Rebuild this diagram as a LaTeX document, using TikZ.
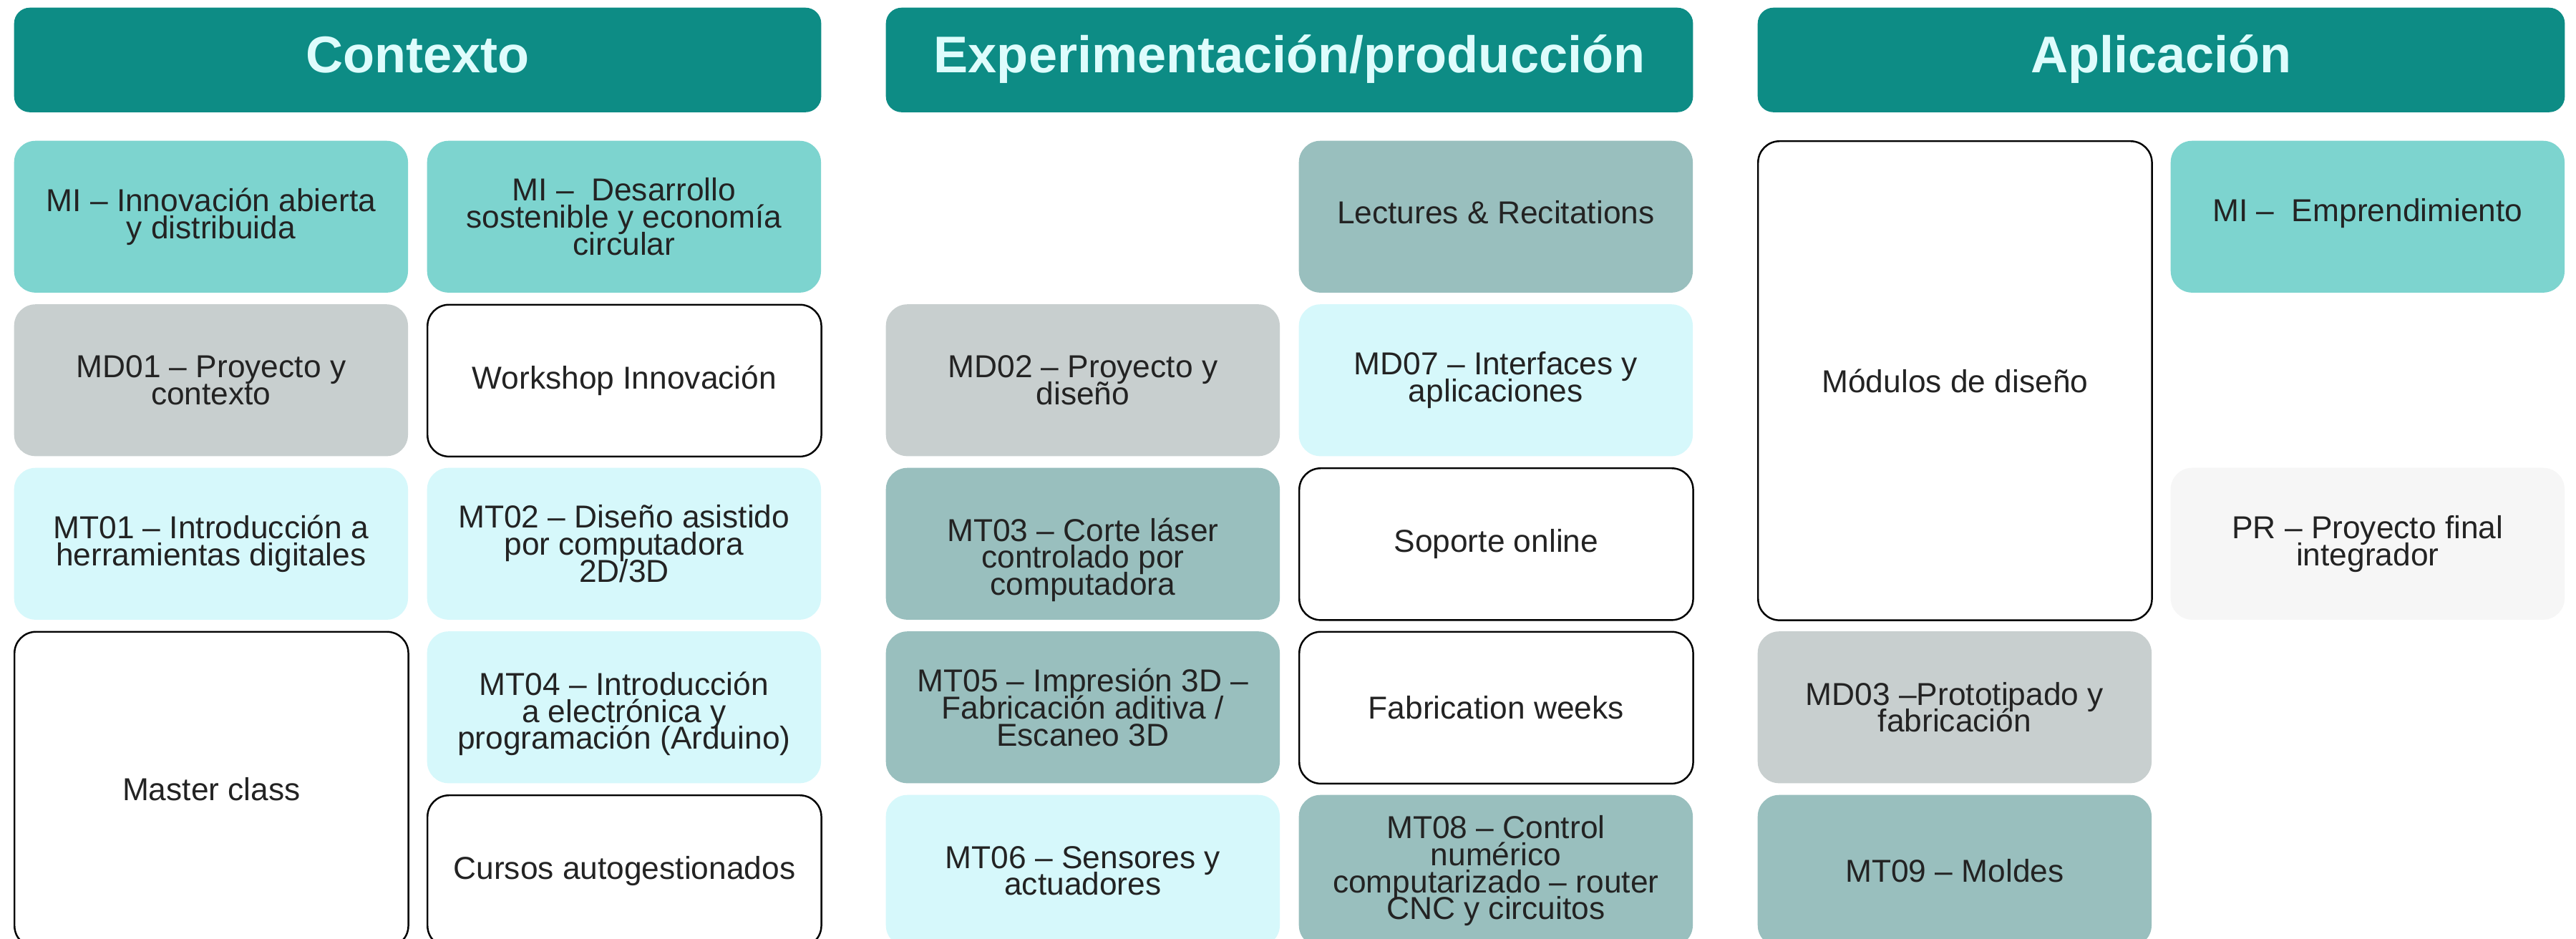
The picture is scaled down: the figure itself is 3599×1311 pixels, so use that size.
\documentclass[tikz,border=0pt]{standalone}
\usepackage{fontspec}
\setmainfont{Liberation Sans}
\definecolor{cHead}{HTML}{0D8C85}
\definecolor{cHeadTxt}{HTML}{DEFCFC}
\definecolor{cTurq}{HTML}{7DD4CF}
\definecolor{cGray}{HTML}{C8CFCF}
\definecolor{cCyan}{HTML}{D6F8FB}
\definecolor{cSage}{HTML}{99BFBE}
\definecolor{cPale}{HTML}{F6F6F6}
\definecolor{txt}{HTML}{232323}
\newcommand{\dnrule}[1]{\rule{0pt}{#1}}
\newcommand{\uprule}[1]{\rule[-#1]{0pt}{0pt}}
\newcommand{\tightlines}{\lineskiplimit=-20pt\relax\lineskip=0pt\relax}
\begin{document}
\begin{tikzpicture}[x=0.01cm,y=-0.01cm,
  box/.style={rectangle, rounded corners=0.3cm, minimum width=5.5cm, minimum height=2.12cm,
    inner sep=0pt, anchor=north west, align=center, text=txt,
    font=\fontsize{12.6}{10.7}\selectfont\tightlines},
  turq/.style={box, fill=cTurq},
  grayb/.style={box, fill=cGray},
  cyanb/.style={box, fill=cCyan},
  sage/.style={box, fill=cSage},
  whiteb/.style={box, fill=white, draw=black, line width=0.7pt},
  pale/.style={box, fill=cPale},
  tall2/.style={minimum height=4.405cm},
  tall3/.style={minimum height=6.69cm},
  head/.style={rectangle, rounded corners=0.22cm, minimum width=11.27cm, minimum height=1.46cm,
    inner sep=0pt, anchor=north west, fill=cHead, text=cHeadTxt,
    text height=0.55cm, text depth=0.2cm,
    font=\bfseries\fontsize{20.5}{20.5}\selectfont}]
\clip (0,0) rectangle (3599,1311);
\fill[white] (0,0) rectangle (3599,1311);
% headers
\node[head] (h1) at (19,10) {Contexto};
\node[head] (h2) at (1237,10) {Experimentación/producción};
\node[head] (h3) at (2455,10) {Aplicación};
% Contexto
\node[turq] (mi1) at (19,196) {MI – Innovación abierta\\y distribuida};
\node[turq] (mi2) at (596,196) {MI –\ \ Desarrollo\\sostenible y economía\\circular};
\node[grayb] (md01) at (19,424.5) {MD01 – Proyecto y\\contexto};
\node[whiteb] (ws) at (596,424.5) {Workshop Innovación};
\node[cyanb] (mt01) at (19,653) {MT01 – Introducción a\\herramientas digitales};
\node[cyanb] (mt02) at (596,653) {MT02 – Diseño asistido\\por computadora\\2D/3D};
\node[whiteb,tall2] (master) at (19,881.5) {Master class};
\node[cyanb] (mt04) at (596,881.5) {\dnrule{14.5pt}MT04 – Introducción\\a electrónica y\\programación (Arduino)};
\node[whiteb] (cursos) at (596,1110) {Cursos autogestionados};
% Experimentacion
\node[sage] (lect) at (1814,196) {Lectures \& Recitations\uprule{3.4pt}};
\node[grayb] (md02) at (1237,424.5) {MD02 – Proyecto y\\diseño};
\node[cyanb] (md07) at (1814,424.5) {MD07 – Interfaces y\\aplicaciones};
\node[sage] (mt03) at (1237,653) {\dnrule{22pt}MT03 – Corte láser\\controlado por\\computadora};
\node[whiteb] (soporte) at (1814,653) {Soporte online};
\node[sage] (mt05) at (1237,881.5) {MT05 – Impresión 3D –\\Fabricación aditiva /\\Escaneo 3D};
\node[whiteb] (fab) at (1814,881.5) {Fabrication weeks};
\node[cyanb] (mt06) at (1237,1110) {MT06 – Sensores y\\actuadores};
\node[sage] (mt08) at (1814,1110) {MT08 – Control\\numérico\\computarizado – router\\CNC y circuitos};
% Aplicacion
\node[whiteb,tall3] (modulos) at (2455,196) {Módulos de diseño};
\node[turq] (mi3) at (3032,196) {MI –\ \ Emprendimiento\uprule{5.2pt}};
\node[pale] (pr) at (3032,653) {PR – Proyecto final\\integrador};
\node[grayb] (md03) at (2455,881.5) {MD03 –Prototipado y\\fabricación};
\node[sage] (mt09) at (2455,1110) {MT09 – Moldes};
\end{tikzpicture}
\end{document}
